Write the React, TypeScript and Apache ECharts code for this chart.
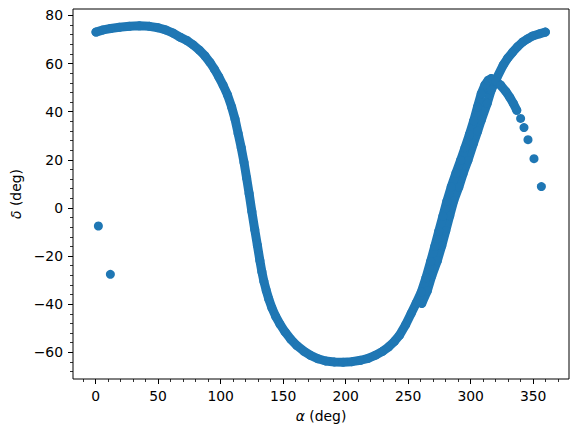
import React, { useEffect, useRef } from "react";
import * as echarts from "echarts";

// Axis ranges and ticks
const X_MIN = -18.1;
const X_MAX = 378.7;
const Y_MIN = -71.1;
const Y_MAX = 82.7;
const X_MAJOR = [0, 50, 100, 150, 200, 250, 300, 350];
const X_MINOR = [-10, 10, 20, 30, 40, 60, 70, 80, 90, 110, 120, 130, 140, 160, 170, 180, 190, 210, 220, 230, 240, 260, 270, 280, 290, 310, 320, 330, 340, 360, 370];
const Y_MAJOR = [-60, -40, -20, 0, 20, 40, 60, 80];
const Y_MINOR = [-68, -64, -56, -52, -48, -44, -36, -32, -28, -24, -16, -12, -8, -4, 4, 8, 12, 16, 24, 28, 32, 36, 44, 48, 52, 56, 64, 68, 72, 76];

// Track that starts near alpha 261 and climbs to alpha 360
const rightAlpha = [260.9, 265.3, 268.9, 273.3, 276.9, 280.1, 283.3, 286.5, 290.5, 294.0, 297.8, 302.3, 305.6, 308.5, 313.3, 316.5, 320.9, 326.1, 329.7, 333.7, 337.7, 341.7, 345.6, 349.7, 355.2, 359.8];
const rightDelta = [-39.7, -34.5, -28.3, -22.0, -15.7, -9.5, -3.2, 3.0, 8.6, 14.3, 19.7, 26.9, 31.9, 36.5, 43.5, 49.0, 54.0, 59.4, 62.3, 64.8, 67.1, 69.0, 70.3, 71.5, 72.4, 73.1];

// Main track from alpha 0 around to the peak near alpha 316 and down
const mainAlpha = [0.3, 6, 12, 19, 27, 35, 43, 50, 56, 62, 67.5, 73, 78, 83, 87.5, 91.5, 95, 98.5, 102, 105.5, 108.8, 111.5, 114, 116.5, 118.7, 120.8, 122.8, 125, 127.3, 129.4, 131.4, 133, 134.6, 136.5, 138.5, 141, 144, 147.5, 151.5, 156, 161, 166.5, 172, 178, 184, 191, 198, 205, 212, 218, 224, 229.5, 234.5, 239, 243, 248, 252.5, 256.5, 260.5, 264.3, 268, 271.3, 274.5, 277.8, 281, 284.5, 288.3, 292, 295.5, 299, 302.5, 305.5, 308.5, 311.5, 314, 316.5, 320.1, 324.1, 328.1, 331.3, 334.1, 336.9];
const mainDelta = [73.1, 74.0, 74.6, 75.1, 75.5, 75.7, 75.5, 74.9, 74.0, 72.7, 71.0, 69.6, 67.8, 65.6, 63.2, 60.5, 57.7, 54.5, 51.0, 47.0, 42.0, 37.0, 31.0, 25.0, 19.0, 12.5, 6.0, -1.5, -9.0, -15.5, -21.8, -26.5, -30.5, -34.3, -37.8, -41.5, -45.0, -48.3, -51.5, -54.5, -57.2, -59.5, -61.3, -62.7, -63.6, -64.0, -64.1, -63.9, -63.3, -62.5, -61.2, -59.6, -57.7, -55.5, -53.0, -48.5, -43.8, -39.5, -35.0, -29.0, -22.3, -16.0, -9.7, -3.4, 2.8, 8.8, 14.5, 19.8, 25.0, 30.5, 36.3, 42.0, 47.5, 51.2, 53.0, 53.8, 52.7, 51.0, 48.5, 46.0, 43.5, 40.6];

// Sparse final points (fast descent, wrapping past 360)
const tailAlpha = [340.0, 342.7, 345.9, 350.7, 356.6, 2.2, 11.8];
const tailDelta = [37.2, 33.4, 28.4, 20.5, 8.9, -7.5, -27.6];

const COLOR = "#1f77b4";
const FONT = "DejaVu Sans";

const pairs = (a: number[], d: number[]) => a.map((x, i) => [x, d[i]]);

export default function App() {
  const ref = useRef<HTMLDivElement>(null);
  useEffect(() => {
    if (!ref.current) return;
    const chart = echarts.init(ref.current, null, { renderer: "svg" });
    const minus = (v: number) => String(v).replace("-", "\u2212");
    const rightPts = pairs(rightAlpha, rightDelta);
    const mainPts = pairs(mainAlpha, mainDelta);
    const tailPts = pairs(tailAlpha, tailDelta);
    const lineStyle = { color: COLOR, width: 9, cap: "round", join: "round" };
    const nameStyle = {
      fontSize: 13.9,
      color: "#000",
      fontFamily: FONT,
      rich: { i: { fontStyle: "italic", fontSize: 13.9, fontFamily: FONT, color: "#000" } },
    };
    chart.setOption({
      animation: false,
      backgroundColor: "#fff",
      grid: {
        left: 73,
        right: 9,
        top: 9,
        bottom: 57,
        show: true,
        borderColor: "#000",
        borderWidth: 1,
        backgroundColor: "transparent",
      },
      xAxis: [
        {
          type: "value",
          min: X_MIN,
          max: X_MAX,
          position: "bottom",
          axisLine: { show: false, onZero: false },
          splitLine: { show: false },
          axisTick: { show: true, customValues: X_MAJOR, length: 5, lineStyle: { color: "#000", width: 1 } },
          axisLabel: { customValues: X_MAJOR, margin: 10, fontSize: 13.9, color: "#000", fontFamily: FONT, formatter: minus },
          name: "{i|\u03b1} (deg)",
          nameLocation: "middle",
          nameGap: 30,
          nameTextStyle: nameStyle,
        },
        {
          type: "value",
          min: X_MIN,
          max: X_MAX,
          position: "bottom",
          axisLine: { show: false, onZero: false },
          splitLine: { show: false },
          axisTick: { show: true, customValues: X_MINOR, length: 3, lineStyle: { color: "#000", width: 0.8 } },
          axisLabel: { show: false },
        },
      ],
      yAxis: [
        {
          type: "value",
          min: Y_MIN,
          max: Y_MAX,
          position: "left",
          axisLine: { show: false, onZero: false },
          splitLine: { show: false },
          axisTick: { show: true, customValues: Y_MAJOR, length: 5, lineStyle: { color: "#000", width: 1 } },
          axisLabel: { customValues: Y_MAJOR, margin: 10, fontSize: 13.9, color: "#000", fontFamily: FONT, formatter: minus },
          name: "{i|\u03b4} (deg)",
          nameLocation: "middle",
          nameGap: 47,
          nameTextStyle: nameStyle,
        },
        {
          type: "value",
          min: Y_MIN,
          max: Y_MAX,
          position: "left",
          axisLine: { show: false, onZero: false },
          splitLine: { show: false },
          axisTick: { show: true, customValues: Y_MINOR, length: 3, lineStyle: { color: "#000", width: 0.8 } },
          axisLabel: { show: false },
        },
      ],
      series: [
        { type: "line", xAxisIndex: 0, yAxisIndex: 0, data: rightPts, showSymbol: false, symbol: "none", lineStyle, z: 2 },
        { type: "line", xAxisIndex: 0, yAxisIndex: 0, data: mainPts, showSymbol: false, symbol: "none", lineStyle, z: 2 },
        {
          type: "scatter",
          xAxisIndex: 0,
          yAxisIndex: 0,
          data: [...rightPts, ...mainPts, ...tailPts],
          symbolSize: 9,
          itemStyle: { color: COLOR, opacity: 1 },
          z: 3,
        },
      ],
    });
    return () => chart.dispose();
  }, []);
  return <div ref={ref} style={{ position: "fixed", left: 0, top: 0, width: 578, height: 436 }} />;
}
